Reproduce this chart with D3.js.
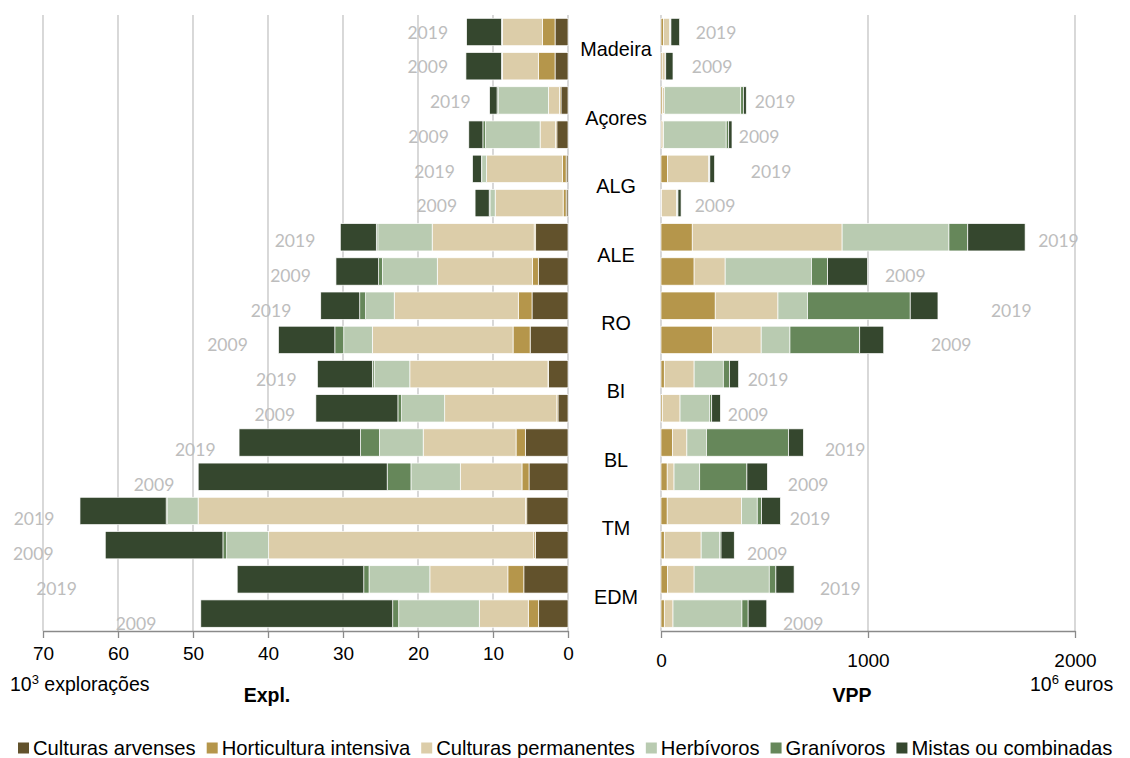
<!DOCTYPE html>
<html><head><meta charset="utf-8">
<script src="https://cdn.jsdelivr.net/npm/d3@7"></script>
<style>body{margin:0;background:#fff}svg{display:block}</style>
</head><body><svg id="c" width="1130" height="758"></svg>
<script>
// ---------- data ----------
const regions = ["Madeira","Açores","ALG","ALE","RO","BI","BL","TM","EDM"];
const years = ["2019","2009"];
const categories = ["Culturas arvenses","Horticultura intensiva","Culturas permanentes","Herbívoros","Granívoros","Mistas ou combinadas"];

// Explorações (10^3), order: region x year (2019, 2009)
const explArvenses     = [1.73,1.73,0.94,1.49,0.25,0.25,4.31,3.96,4.80,5.05,2.62,1.34,5.69,5.20,5.50,4.36,5.89,3.91];
const explHorticultura = [1.69,2.23,0.20,0.20,0.50,0.40,0.20,0.79,1.83,2.28,0.05,0.15,1.24,0.94,0.15,0.20,2.13,1.39];
const explPermanentes  = [5.34,4.80,1.48,2.03,10.10,9.06,13.60,12.68,16.54,18.76,18.42,14.95,12.38,8.22,43.67,35.35,10.40,6.53];
const explHerbivoros   = [0.05,0.05,6.64,7.28,0.65,0.70,7.25,7.32,3.81,3.81,4.76,5.74,5.84,6.58,4.06,5.60,8.11,10.74];
const explGranivoros   = [0.05,0.05,0.20,0.35,0.05,0.10,0.20,0.50,0.79,1.19,0.24,0.50,2.52,3.17,0.20,0.50,0.70,0.80];
const explMistas       = [4.66,4.75,1.00,1.88,1.18,1.88,4.80,5.69,5.20,7.52,7.33,10.94,16.19,25.20,11.49,15.69,16.88,25.59];

// VPP (10^6 euros)
const vppArvenses     = [0,0,0,0,0,0,0,0,0,0,0,0,0,0,0,0,0,0];
const vppHorticultura = [12,6,8,5,32,3,151,160,262,248,16,7,55,30,30,16,32,16];
const vppPermanentes  = [30,14,8,7,199,73,724,150,303,236,144,85,70,33,359,178,128,42];
const vppHerbivoros   = [4,2,369,303,3,5,516,417,143,139,141,142,95,124,76,89,363,333];
const vppGranivoros   = [2,1,13,12,2,1,91,78,496,337,30,11,396,228,21,7,32,30];
const vppMistas       = [42,35,14,16,23,15,277,193,134,116,44,42,72,99,91,64,88,90];

// where the year labels sit on each value axis (label series values)
const explLabelAt = [18.7,18.7,15.7,18.6,17.8,17.5,36.4,37.0,39.6,45.4,38.9,39.1,49.7,55.2,71.2,71.3,68.2,57.6];
const vppLabelAt  = [266,247,551,474,532,261,1920,1180,1692,1402,517,421,890,711,720,513,866,687];

const explTicks = [0,10,20,30,40,50,60,70];
const vppTicks = [0,1000,2000];

const palette = ["#62522C","#B5964B","#DCCDA9","#B9CBB1","#66875A","#35472E"];

// ---------- build ----------
const svg = d3.select("#c");
const keys = regions.flatMap(r => years.map(y => r + "|" + y));
const explSeries = [explArvenses,explHorticultura,explPermanentes,explHerbivoros,explGranivoros,explMistas];
const vppSeries  = [vppArvenses,vppHorticultura,vppPermanentes,vppHerbivoros,vppGranivoros,vppMistas];
function rows(series){
  return keys.map((k,i)=>{const o={key:k}; categories.forEach((c,j)=>o[c]=series[j][i]); return o;});
}
const stack = d3.stack().keys(categories);
const stE = stack(rows(explSeries));
const stV = stack(rows(vppSeries));

const y = d3.scaleBand().domain(keys).range([14.9,630.7]).paddingInner(0.2).paddingOuter(0.1);
const yLab = d3.scaleBand().domain(keys).range([14.9,640.7]).paddingInner(0.2).paddingOuter(0.1);
const xL = d3.scaleLinear().domain([0,70]).range([568,43]);
const xR = d3.scaleLinear().domain([0,2000]).range([661,1075]);
const color = d3.scaleOrdinal().domain(categories).range(palette);

const axisY = 631;
const gridTop = 15;
const gridCol = "#C4C4C4";

// gridlines
svg.append("g").selectAll("line").data(explTicks).join("line")
  .attr("x1",d=>xL(d)).attr("x2",d=>xL(d)).attr("y1",gridTop).attr("y2",axisY)
  .attr("stroke",gridCol).attr("stroke-width",1.3);
svg.append("g").selectAll("line").data(vppTicks).join("line")
  .attr("x1",d=>xR(d)).attr("x2",d=>xR(d)).attr("y1",gridTop).attr("y2",axisY)
  .attr("stroke",gridCol).attr("stroke-width",1.3);

// bars left
svg.append("g").selectAll("g").data(stE).join("g").attr("fill",d=>color(d.key))
  .selectAll("rect").data(d=>d).join("rect")
  .attr("x",d=>xL(d[1])).attr("width",d=>Math.max(0,xL(d[0])-xL(d[1])))
  .attr("y",d=>y(d.data.key)).attr("height",y.bandwidth())
  .attr("stroke","#fff").attr("stroke-width",0.7);
// bars right
svg.append("g").selectAll("g").data(stV).join("g").attr("fill",d=>color(d.key))
  .selectAll("rect").data(d=>d.filter(e=>e[1]>e[0])).join("rect")
  .attr("x",d=>xR(d[0])).attr("width",d=>Math.max(0,xR(d[1])-xR(d[0])))
  .attr("y",d=>y(d.data.key)).attr("height",y.bandwidth())
  .attr("stroke","#fff").attr("stroke-width",0.7);

// year labels
const yearFont = "Lato, 'Open Sans', sans-serif";
svg.append("g").selectAll("text").data(keys).join("text")
  .attr("x",(k,i)=>xL(explLabelAt[i])).attr("y",k=>yLab(k)+yLab.bandwidth()/2)
  .attr("dy","0.36em").attr("text-anchor","middle")
  .attr("font-family",yearFont).attr("font-size",17.5).attr("fill","#BDBDBD")
  .text(k=>k.split("|")[1]);
svg.append("g").selectAll("text").data(keys).join("text")
  .attr("x",(k,i)=>xR(vppLabelAt[i])).attr("y",k=>yLab(k)+yLab.bandwidth()/2)
  .attr("dy","0.36em").attr("text-anchor","middle")
  .attr("font-family",yearFont).attr("font-size",17.5).attr("fill","#BDBDBD")
  .text(k=>k.split("|")[1]);

// region labels
const arial = "'Liberation Sans', Arial, sans-serif";
svg.append("g").selectAll("text").data(regions).join("text")
  .attr("x",616)
  .attr("y",r=>(y(r+"|2019")+y(r+"|2009")+y.bandwidth())/2)
  .attr("dy","0.36em").attr("text-anchor","middle")
  .attr("font-family",arial).attr("font-size",19.8).attr("fill","#000")
  .text(r=>r);

// axes
function styleAxis(g, textY){
  g.select(".domain").attr("stroke","#8A8A8A").attr("stroke-width",1.6);
  g.selectAll(".tick line").attr("stroke","#8A8A8A").attr("stroke-width",1.3);
  g.selectAll(".tick text").attr("font-family",arial).attr("font-size",19).attr("fill","#000")
    .attr("y",textY).attr("dy","0.36em");
}
svg.append("g").attr("transform",`translate(0,${axisY})`)
  .call(d3.axisBottom(xL).tickValues(explTicks).tickSize(7).tickSizeOuter(0).tickFormat(d3.format("d")))
  .call(g=>styleAxis(g,22));
svg.append("g").attr("transform",`translate(0,${axisY})`)
  .call(d3.axisBottom(xR).tickValues(vppTicks).tickSize(7).tickSizeOuter(0).tickFormat(d3.format("d")))
  .call(g=>styleAxis(g,29));

// axis titles
const t1 = svg.append("text").attr("x",10).attr("y",691).attr("font-family",arial).attr("font-size",19.5).attr("fill","#000");
t1.append("tspan").text("10");
t1.append("tspan").attr("font-size",13).attr("dy",-7).text("3");
t1.append("tspan").attr("dy",7).text(" explorações");
svg.append("text").attr("x",267).attr("y",702).attr("text-anchor","middle")
  .attr("font-family",arial).attr("font-size",19.5).attr("font-weight","bold").text("Expl.");
svg.append("text").attr("x",852).attr("y",702).attr("text-anchor","middle")
  .attr("font-family",arial).attr("font-size",19.5).attr("font-weight","bold").text("VPP");
const t2 = svg.append("text").attr("x",1030).attr("y",691).attr("font-family",arial).attr("font-size",19.5).attr("fill","#000");
t2.append("tspan").text("10");
t2.append("tspan").attr("font-size",13).attr("dy",-7).text("6");
t2.append("tspan").attr("dy",7).text(" euros");

// legend
const leg = svg.append("g").attr("transform","translate(18,748)");
let lx = 0;
categories.forEach((c,i)=>{
  leg.append("rect").attr("x",lx).attr("y",-5.5).attr("width",11).attr("height",11).attr("fill",color(c));
  const t = leg.append("text").attr("x",lx+15).attr("y",0).attr("dy","0.36em")
    .attr("font-family",arial).attr("font-size",20.2).attr("fill","#000").text(c);
  lx += 15 + t.node().getComputedTextLength() + 11;
});
</script></body></html>
